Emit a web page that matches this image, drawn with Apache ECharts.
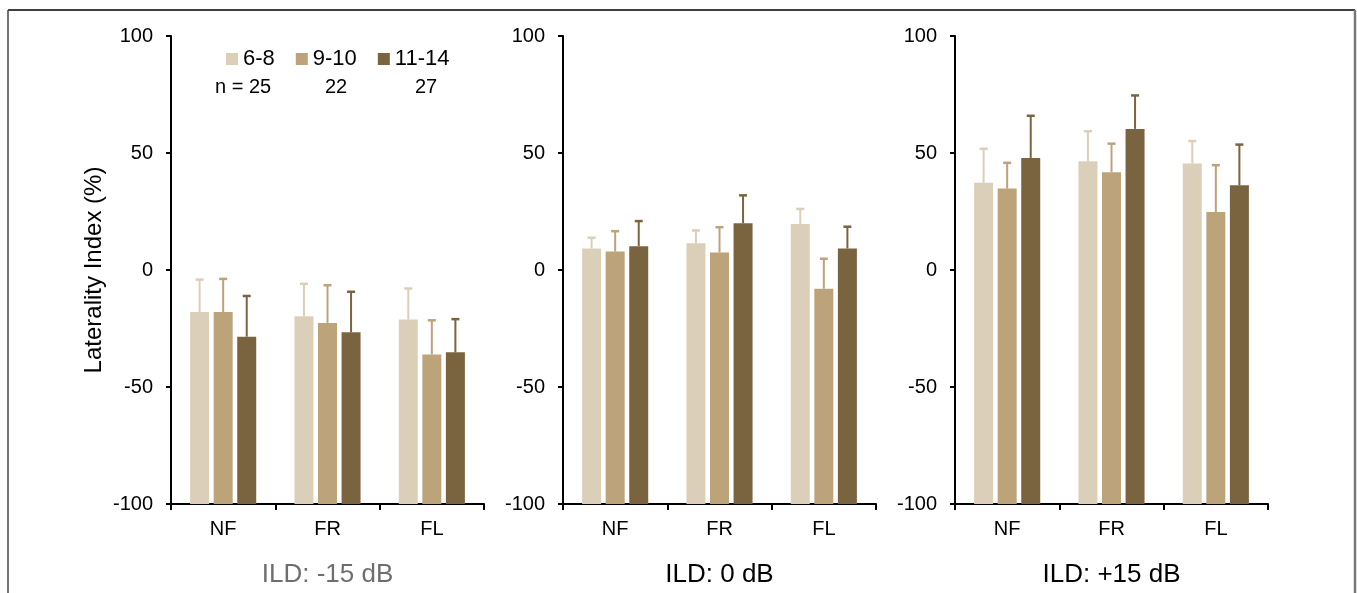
<!DOCTYPE html>
<html>
<head>
<meta charset="utf-8">
<script src="https://cdn.jsdelivr.net/npm/echarts@6/dist/echarts.min.js"></script>
<style>
  html, body { margin: 0; padding: 0; background: #fff; }
  #chart { width: 1357px; height: 593px; }
</style>
</head>
<body>
<div id="chart"></div>
<script>
// Listening conditions (x categories), age groups and group sizes
const categories = ['NF', 'FR', 'FL'];
const ageGroups = ['6-8', '9-10', '11-14'];
const groupSizes = [25, 22, 27];
const panelTitles = ['ILD: -15 dB', 'ILD: 0 dB', 'ILD: +15 dB'];
const yTicks = { min: -100, max: 100, step: 50 };

// Mean laterality index per age group (rows) over NF, FR, FL
const meanIldMinus15 = [
  [-18.0, -19.8, -21.2],
  [-18.0, -22.6, -36.1],
  [-28.5, -26.6, -35.2]
];
const meanIld0 = [
  [9.2, 11.4, 19.7],
  [7.9, 7.5, -8.0],
  [10.2, 20.0, 9.2]
];
const meanIldPlus15 = [
  [37.3, 46.5, 45.5],
  [34.8, 41.8, 24.8],
  [47.9, 60.3, 36.2]
];

// Upper error bar lengths, same layout
const errIldMinus15 = [
  [13.9, 13.9, 13.3],
  [14.2, 16.1, 14.6],
  [17.4, 17.3, 14.2]
];
const errIld0 = [
  [4.6, 5.5, 6.4],
  [8.7, 10.8, 12.8],
  [10.7, 11.9, 9.3]
];
const errIldPlus15 = [
  [14.5, 12.8, 9.6],
  [11.0, 12.2, 20.0],
  [18.0, 14.3, 17.4]
];

const panelMeans = [meanIldMinus15, meanIld0, meanIldPlus15];
const panelErrs = [errIldMinus15, errIld0, errIldPlus15];

const colors = ['#dbcfb9', '#bca37a', '#7a643f'];
const FONT = 'Liberation Sans, Arial, Helvetica, sans-serif';
const BAR_W = 19;
const BAR_GAP = 0.24;

const panelLeft = [171, 563, 955];
const panelWidth = 313;
const panelTop = 36;
const panelHeight = 474;

const grids = [], xAxes = [], yAxes = [], series = [];

panelLeft.forEach((left, p) => {
  grids.push({ left: left, top: panelTop, width: panelWidth, height: panelHeight });
  xAxes.push({
    type: 'category',
    gridIndex: p,
    data: categories,
    name: panelTitles[p],
    nameLocation: 'middle',
    nameGap: 58,
    nameTextStyle: { fontFamily: FONT, fontSize: 26, color: p === 0 ? '#6e6e6e' : '#000' },
    axisLine: { onZero: false, lineStyle: { color: '#000', width: 2 } },
    axisTick: { show: true, length: 6, lineStyle: { color: '#000', width: 2 } },
    axisLabel: { fontFamily: FONT, fontSize: 20, color: '#000', margin: 15 },
    splitLine: { show: false }
  });
  yAxes.push({
    type: 'value',
    gridIndex: p,
    min: yTicks.min,
    max: yTicks.max,
    interval: yTicks.step,
    startValue: yTicks.min,
    name: p === 0 ? 'Laterality Index (%)' : '',
    nameLocation: 'middle',
    nameGap: 65,
    nameTextStyle: { fontFamily: FONT, fontSize: 24, color: '#000' },
    axisLine: { show: true, lineStyle: { color: '#000', width: 2 } },
    axisTick: { show: true, length: 5, lineStyle: { color: '#000', width: 2 } },
    axisLabel: { fontFamily: FONT, fontSize: 20, color: '#000', margin: 18 },
    splitLine: { show: false }
  });

  ageGroups.forEach((g, gi) => {
    series.push({
      name: g,
      type: 'bar',
      xAxisIndex: p,
      yAxisIndex: p,
      barWidth: BAR_W,
      barGap: (BAR_GAP * 100) + '%',
      itemStyle: { color: colors[gi] },
      data: panelMeans[p][gi],
      silent: true
    });
  });

  // Upward error bars with caps, one custom series per age group
  ageGroups.forEach((g, gi) => {
    series.push({
      name: g,
      type: 'custom',
      xAxisIndex: p,
      yAxisIndex: p,
      z: 3,
      silent: true,
      encode: { x: 0, y: 1 },
      data: categories.map((c, ci) => [ci, panelMeans[p][gi][ci], panelErrs[p][gi][ci]]),
      renderItem: function (params, api) {
        const ci = api.value(0);
        const m = api.value(1);
        const e = api.value(2);
        const base = api.coord([ci, m]);
        const top = api.coord([ci, m + e]);
        const offset = (gi - 1) * BAR_W * (1 + BAR_GAP);
        const x = base[0] + offset;
        return {
          type: 'group',
          children: [
            { type: 'line', shape: { x1: x, y1: base[1], x2: x, y2: top[1] }, style: { stroke: colors[gi], lineWidth: 2 } },
            { type: 'line', shape: { x1: x - 4, y1: top[1], x2: x + 4, y2: top[1] }, style: { stroke: colors[gi], lineWidth: 2.5 } }
          ]
        };
      }
    });
  });
});

// Group size labels under the legend
const nLabelX = [215, 325, 415];
const nGraphics = groupSizes.map((n, i) => ({
  type: 'text',
  left: nLabelX[i],
  top: 77,
  style: { text: (i === 0 ? 'n = ' : '') + n, font: '20px ' + FONT, fill: '#000' }
}));

// Frame around the figure
const frame = [
  { type: 'line', shape: { x1: 8, y1: 10, x2: 1355, y2: 10 }, style: { stroke: '#000', lineWidth: 1.5 } },
  { type: 'line', shape: { x1: 8, y1: 10, x2: 8, y2: 593 }, style: { stroke: '#444', lineWidth: 1.5 } },
  { type: 'line', shape: { x1: 1355, y1: 10, x2: 1355, y2: 593 }, style: { stroke: '#777', lineWidth: 2.5 } }
];

const chart = echarts.init(document.getElementById('chart'), null, { renderer: 'canvas' });
chart.setOption({
  animation: false,
  backgroundColor: '#fff',
  legend: {
    data: ageGroups.map((g, i) => ({ name: g, itemStyle: { color: colors[i] } })),
    left: 221,
    top: 43,
    icon: 'rect',
    itemWidth: 12,
    itemHeight: 12,
    itemGap: 21,
    selectedMode: false,
    textStyle: { fontFamily: FONT, fontSize: 22, color: '#000' }
  },
  grid: grids,
  xAxis: xAxes,
  yAxis: yAxes,
  series: series,
  graphic: nGraphics.concat(frame)
});
</script>
</body>
</html>
